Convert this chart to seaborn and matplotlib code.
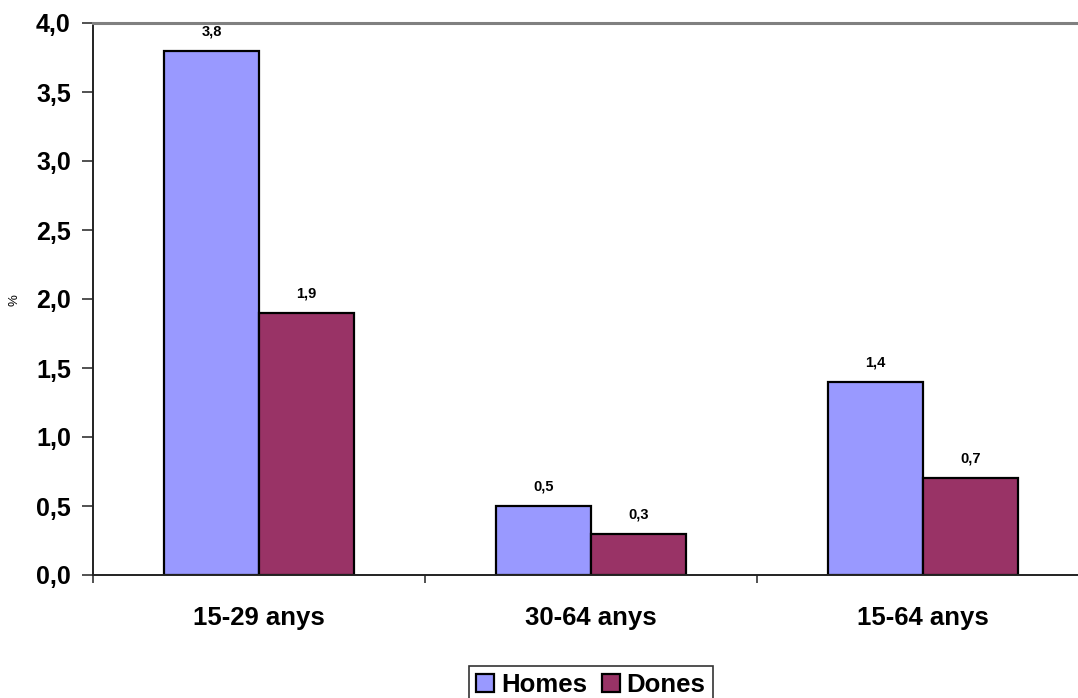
import numpy as np
import pandas as pd
import matplotlib
matplotlib.use('Agg')
import matplotlib.pyplot as plt
import seaborn as sns

# data
grups = ['15-29 anys', '30-64 anys', '15-64 anys']
homes = [3.8, 0.5, 1.4]
dones = [1.9, 0.3, 0.7]
sexes = ['Homes', 'Dones']
colors = ['#9999FF', '#993366']
yticks = [0.0, 0.5, 1.0, 1.5, 2.0, 2.5, 3.0, 3.5, 4.0]

df = pd.DataFrame({
    'grup': grups * 2,
    'valor': homes + dones,
    'sexe': ['Homes'] * 3 + ['Dones'] * 3,
})

sns.set_style('white')
plt.rcParams['font.family'] = ['Liberation Sans', 'DejaVu Sans']
plt.rcParams['text.color'] = 'black'
plt.rcParams['xtick.color'] = 'black'
plt.rcParams['ytick.color'] = 'black'

fig = plt.figure(figsize=(10.78, 6.98), dpi=100)
W, H = 1078, 698
left, right, top, bottom = 93, 1078, 23, 575
ax = fig.add_axes([left / W, 1 - bottom / H, (right - left) / W, (bottom - top) / H])

sns.barplot(data=df, x='grup', y='valor', hue='sexe', order=grups, hue_order=sexes,
            palette=colors, edgecolor='black', linewidth=1.6, width=0.572,
            saturation=1, ax=ax, legend=True)

# x range: categories are ~332px wide, axes cut at the right figure edge
ax.set_xlim(-0.5, -0.5 + (right - left) / 332)
ax.set_ylim(0, 4)

# value labels above bars
for cont in ax.containers:
    labels = [f'{v:.1f}'.replace('.', ',') for v in cont.datavalues]
    ax.bar_label(cont, labels=labels, padding=9, fontsize=10.5, fontweight='bold')

ax.set_yticks(yticks)
ax.set_yticklabels([f'{t:.1f}'.replace('.', ',') for t in yticks],
                   fontsize=18, fontweight='bold')
ax.tick_params(axis='y', length=8, width=1.2, color='#333333', pad=8, direction='out', left=True)

ax.set_xticks(range(len(grups)))
ax.set_xticklabels(grups, fontsize=18.5, fontweight='bold')
ax.tick_params(axis='x', which='major', length=0, pad=22)
ax.set_xticks([-0.5, 0.5, 1.5], minor=True)
ax.tick_params(axis='x', which='minor', length=6, width=1.2, color='#333333',
               direction='out', bottom=True)

ax.set_xlabel('')
ax.set_ylabel('')
fig.text(15 / W, 1 - 300 / H, '%', rotation=90, fontsize=9.5, ha='center', va='center')

for s in ['left', 'bottom']:
    ax.spines[s].set_color('#222222')
    ax.spines[s].set_linewidth(1.4)
ax.spines['top'].set_color('#808080')
ax.spines['top'].set_linewidth(2.2)
ax.spines['right'].set_visible(False)

ax.legend_.remove()
handles = [plt.Rectangle((0, 0), 1, 1, facecolor=c, edgecolor='black', linewidth=1.6) for c in colors]
leg = fig.legend(handles, sexes, loc='lower center', bbox_to_anchor=(591 / W, -0.01),
                 ncol=2, frameon=True, fancybox=False, edgecolor='black',
                 prop={'size': 18.5, 'weight': 'bold'}, handlelength=0.7, handleheight=0.7,
                 handletextpad=0.25, columnspacing=0.6, borderpad=0.3, borderaxespad=0)
leg.get_frame().set_linewidth(1.2)

fig.savefig('out.png', dpi=100)
